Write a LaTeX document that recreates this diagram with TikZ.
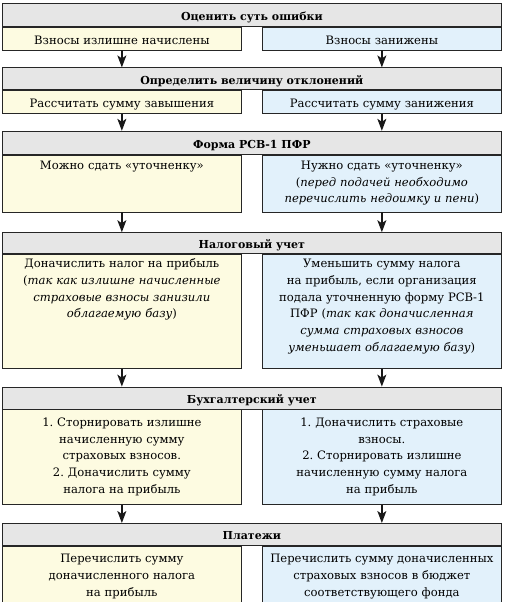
\documentclass[tikz,border=0pt]{standalone}
\usepackage{fontspec}
\setmainfont{DejaVu Serif}
\usetikzlibrary{
    arrows.meta,
    positioning
}
\definecolor{headgray}{HTML}{E6E6E6}
\definecolor{lightyellow}{HTML}{FDFBE1}
\definecolor{lightblue}{HTML}{E2F1FB}
\frenchspacing

\begin{document}
\begin{tikzpicture}[
    x=1pt, y=1pt,
    every node/.style={font=\fontsize{11.6}{16.7}\selectfont},
    head/.style={rectangle, draw=black!85, line width=0.7pt, fill=headgray, minimum width=499pt, inner sep=0pt, font=\fontsize{11}{16.7}\selectfont\bfseries},
    cell/.style={rectangle, draw=black!85, line width=0.7pt, text width=233pt, inner xsep=3pt, inner ysep=0pt, align=center},
    yes/.style={cell, fill=lightyellow},
    no/.style={cell, fill=lightblue},
    arrow/.style={-{Stealth[length=12pt,width=9pt,inset=3pt]}, line width=1.4pt, draw=black!90}
]
    \useasboundingbox (0,0) rectangle (506,-602);

    % Stage 1
    \node (h1) [head, anchor=north west, text height=17pt, text depth=6pt] at (2,-3) {Оценить суть ошибки};
    \node (l1) [yes, below=0pt of h1.south west, anchor=north west, text height=17pt, text depth=6pt] {Взносы излишне начислены};
    \node (r1) [no, below=0pt of h1.south east, anchor=north east, text height=17pt, text depth=6pt] {Взносы занижены};

    % Stage 2
    \node (h2) [head, below=17pt of l1.south west, anchor=north west, text height=16.5pt, text depth=5.5pt] {Определить величину отклонений};
    \node (l2) [yes, below=0pt of h2.south west, anchor=north west, text height=17pt, text depth=6pt] {Рассчитать сумму завышения};
    \node (r2) [no, below=0pt of h2.south east, anchor=north east, text height=17pt, text depth=6pt] {Рассчитать сумму занижения};

    % Stage 3
    \node (h3) [head, below=17pt of l2.south west, anchor=north west, text height=17pt, text depth=6pt] {Форма РСВ-1 ПФР};
    \node (l3) [yes, below=0pt of h3.south west, anchor=north west, text height=14.5pt, text depth=42.5pt] {Можно сдать «уточненку»};
    \node (r3) [no, below=0pt of h3.south east, anchor=north east, text height=14.5pt, text depth=42.5pt] {Нужно сдать «уточненку»\\ (\textit{перед подачей необходимо}\\ \textit{перечислить недоимку и пени})};

    % Stage 4
    \node (h4) [head, below=20pt of l3.south west, anchor=north west, text height=16pt, text depth=5pt] {Налоговый учет};
    \node (l4) [yes, below=0pt of h4.south west, anchor=north west, text height=13.5pt, text depth=100.5pt] {Доначислить налог на прибыль\\ (\textit{так как излишне начисленные}\\ \textit{страховые взносы занизили}\\ \textit{облагаемую базу})};
    \node (r4) [no, below=0pt of h4.south east, anchor=north east, text height=13.5pt, text depth=100.5pt] {Уменьшить сумму налога\\ на прибыль, если организация\\ подала уточненную форму РСВ-1\\ ПФР (\textit{так как доначисленная}\\ \textit{сумма страховых взносов}\\ \textit{уменьшает облагаемую базу})};

    % Stage 5
    \node (h5) [head, below=18pt of l4.south west, anchor=north west, text height=16.5pt, text depth=5.5pt] {Бухгалтерский учет};
    \node (l5) [yes, below=0pt of h5.south west, anchor=north west, text height=16.7pt, text depth=78.3pt] {1. Сторнировать излишне\\ начисленную сумму\\ страховых взносов.\\ 2. Доначислить сумму\\ налога на прибыль};
    \node (r5) [no, below=0pt of h5.south east, anchor=north east, text height=16.7pt, text depth=78.3pt] {1. Доначислить страховые\\ взносы.\\ 2. Сторнировать излишне\\ начисленную сумму налога\\ на прибыль};

    % Stage 6
    \node (h6) [head, below=18pt of l5.south west, anchor=north west, text height=16.5pt, text depth=5.5pt] {Платежи};
    \node (l6) [yes, below=0pt of h6.south west, anchor=north west, text height=16.7pt, text depth=43.3pt] {Перечислить сумму\\ доначисленного налога\\ на прибыль};
    \node (r6) [no, below=0pt of h6.south east, anchor=north east, text height=16.7pt, text depth=43.3pt] {Перечислить сумму доначисленных\\ страховых взносов в бюджет\\ соответствующего фонда};

    % Arrows
    \draw [arrow] (l1.south) -- (l1.south |- h2.north);
    \draw [arrow] (r1.south) -- (r1.south |- h2.north);
    \draw [arrow] (l2.south) -- (l2.south |- h3.north);
    \draw [arrow] (r2.south) -- (r2.south |- h3.north);
    \draw [arrow] (l3.south) -- (l3.south |- h4.north);
    \draw [arrow] (r3.south) -- (r3.south |- h4.north);
    \draw [arrow] (l4.south) -- (l4.south |- h5.north);
    \draw [arrow] (r4.south) -- (r4.south |- h5.north);
    \draw [arrow] (l5.south) -- (l5.south |- h6.north);
    \draw [arrow] (r5.south) -- (r5.south |- h6.north);

\end{tikzpicture}
\end{document}
